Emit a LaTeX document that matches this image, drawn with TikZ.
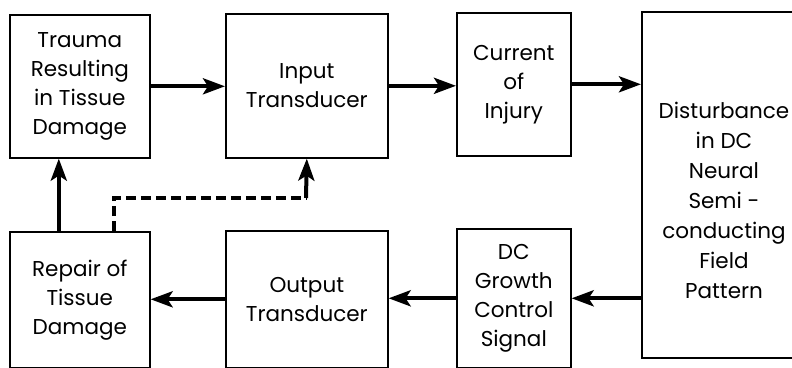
\documentclass[tikz,border=0pt]{standalone}
\usepackage{fontspec}
\setmainfont{Poppins}
\usetikzlibrary{arrows.meta}

\begin{document}
\begin{tikzpicture}[x=1pt,y=-1pt]
        \tikzstyle{every node}=[font=\fontsize{21.5}{29}\selectfont, align=center]
        \tikzstyle{block}=[draw, line width=1.6pt, inner sep=0pt, anchor=north west]
        \tikzstyle{flow}=[line width=4pt, -{Stealth[length=22pt,width=16pt,inset=5pt]}]
        \tikzstyle{feedback}=[line width=3.6pt, dash pattern=on 10pt off 5pt]
        \useasboundingbox (0,0) rectangle (792,367);
        \clip (0,0) rectangle (792,367);

        % top row
        \node[block, minimum width=140, minimum height=143] (trauma) at (9,14)
            {Trauma\\Resulting\\in Tissue\\Damage};
        \node[block, minimum width=162, minimum height=144] (input) at (225,13)
            {Input\\Transducer};
        \node[block, minimum width=114, minimum height=143] (current) at (456,12)
            {Current\\of\\Injury};

        % field box on the right, cut by the page
        \node[block, minimum width=168, minimum height=346] (field) at (641,11) {};
        \node[font=\fontsize{21.5}{30}\selectfont] (fieldtext) at (724,200)
            {Disturbance\\in DC\\Neural\\Semi -\\conducting\\Field\\Pattern};

        % bottom row
        \node[block, minimum width=140, minimum height=136] (repair) at (9,231)
            {Repair of\\Tissue\\Damage};
        \node[block, minimum width=162, minimum height=137] (output) at (225,230)
            {Output\\Transducer};
        \node[block, minimum width=114, minimum height=139] (growth) at (456,228)
            {DC\\Growth\\Control\\Signal};

        % forward path
        \draw[flow] (trauma.east) -- (trauma.east -| input.west);
        \draw[flow] (input.east) -- (input.east -| current.west);
        \draw[flow] (current.east) -- (current.east -| field.west);

        % return path
        \draw[flow] (growth.east -| field.west) -- (growth.east);
        \draw[flow] (growth.west) -- (growth.west -| output.east);
        \draw[flow] (output.west) -- (output.west -| repair.east);
        \draw[flow] ([xshift=-21]repair.north) -- ([xshift=-21]trauma.south);

        % feedback to the input transducer
        \coordinate (bend) at (306,198);
        \draw[feedback] ([xshift=34]repair.north) |- (bend);
        \draw[flow] (bend) -- (input.south);
\end{tikzpicture}
\end{document}
